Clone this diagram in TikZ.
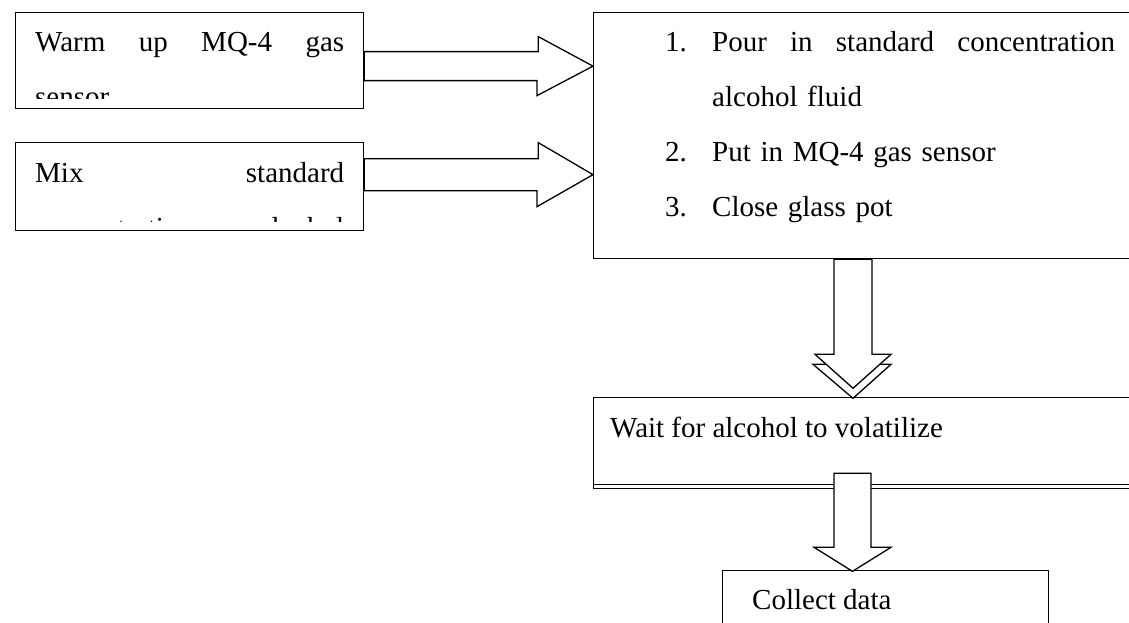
\documentclass[tikz,border=0pt]{standalone}
\usepackage{fontspec}
\setmainfont{Liberation Serif}
\usetikzlibrary{calc}

\tikzset{
  box/.style={draw, line width=1.3pt, inner sep=0pt, anchor=north west},
  boxtext/.style={inner sep=0pt, anchor=base west, font=\fontsize{29}{55}\selectfont},
  blockarrow/.style={draw, line width=1.3pt, fill=white, line join=miter},
}

\begin{document}
\begin{tikzpicture}[x=1pt, y=-1pt]
    \useasboundingbox (0,0) rectangle (1129,623);
    \clip (0,0) rectangle (1129,623);

    % boxes
    \node[box, minimum width=348pt, minimum height=96pt] (warm) at (15,12) {};
    \node[box, minimum width=348pt, minimum height=88pt] (mix) at (15,142) {};
    \node[box, minimum width=560pt, minimum height=246pt] (pour) at (593,12) {};
    \node[box, minimum width=560pt, minimum height=91pt] (wait) at (593,397) {};
    \node[box, minimum width=326pt, minimum height=90pt] (collect) at (722,570) {};
    \draw[line width=1.3pt] ([yshift=5pt]wait.south west) -- ([yshift=5pt]wait.south east);

    % texts (the two small boxes cut their text off)
    \begin{scope}
      \clip (warm.north west) rectangle ([yshift=11pt]warm.south east);
      \node[boxtext, text width=309pt] (warmtext) at (35,52)
        {Warm\hfill up\hfill MQ-4\hfill gas\newline sensor};
    \end{scope}
    \begin{scope}
      \clip (mix.north west) rectangle ([yshift=10pt]mix.south east);
      \node[boxtext, text width=309pt] (mixtext) at (35,182)
        {Mix\hfill standard\newline concentration\hfill alcohol\newline fluid};
    \end{scope}
    \node[boxtext, text width=450pt] (pourtext) at (665,52) {%
      {\hangindent=47pt\makebox[47pt][l]{1.}Pour\hfill in\hfill standard\hfill concentration\newline alcohol fluid\par}
      \makebox[47pt][l]{2.}Put in MQ-4 gas sensor\par
      \makebox[47pt][l]{3.}Close glass pot};
    \node[boxtext] (waittext) at (610,437) {Wait for alcohol to volatilize};
    \node[boxtext] (collecttext) at (752,609) {Collect data};

    % block arrows
    \coordinate (a1) at ([yshift=-5.5pt]warm.east);
    \coordinate (a2) at ([yshift=12pt]mix.east);
    \coordinate (dx) at (852.5,0);
    \coordinate (d1) at (pour.south -| dx);
    \coordinate (d2) at (wait.south -| dx);

    \draw[blockarrow] ([yshift=14.5pt]a1) -- ++(174,0) -- ++(0,-15) -- (pour.west |- a1)
      -- ++(-56,29.5) -- ++(0,-15) -- ([yshift=-14.5pt]a1) -- cycle;
    \draw[blockarrow] ([yshift=16pt]a2) -- ++(174,0) -- ++(0,-16) -- (pour.west |- a2)
      -- ++(-56,32) -- ++(0,-16) -- ([yshift=-16pt]a2) -- cycle;

    \draw[blockarrow] (d1) ++(-39.5,105) -- ++(40,34) -- ++(38,-34) -- cycle;
    \draw[blockarrow] (d1) ++(-18.5,0) -- ++(0,95) -- ++(-19,0) -- ++(38,34) -- ++(38,-34)
      -- ++(-19,0) -- ++(0,-95) -- cycle;
    \draw[blockarrow] (d2) ++(-18.5,-16) -- ++(0,74) -- ++(-20,0) -- ++(38.5,24) -- ++(38.5,-24)
      -- ++(-20,0) -- ++(0,-74) -- cycle;
\end{tikzpicture}
\end{document}
